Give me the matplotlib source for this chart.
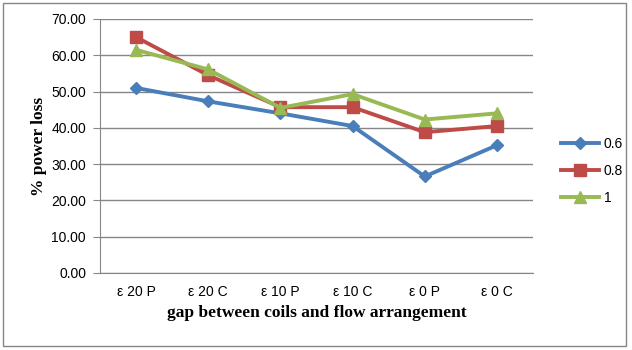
import matplotlib.pyplot as plt
from matplotlib.patches import Rectangle

# categories along the x axis
cats = ["ε 20 P", "ε 20 C", "ε 10 P", "ε 10 C", "ε 0 P", "ε 0 C"]

# % power loss for each series
s06 = [51.0, 47.3, 44.0, 40.5, 26.6, 35.2]
s08 = [65.0, 54.5, 45.7, 45.7, 38.8, 40.5]
s1 = [61.5, 56.1, 45.5, 49.3, 42.3, 44.0]

plt.rcParams["font.family"] = ["Liberation Sans", "DejaVu Sans"]

fig = plt.figure(figsize=(6.32, 3.5), dpi=100)
ax = fig.add_axes([100/632, 1-273/350, 433/632, 254/350])

x = range(len(cats))
ax.plot(x, s06, color="#4A7EBB", lw=2.8, marker="D", ms=6.5, label="0.6")
ax.plot(x, s08, color="#BE4B48", lw=2.8, marker="s", ms=8, label="0.8")
ax.plot(x, s1, color="#98B954", lw=2.8, marker="^", ms=8, label="1")

ax.set_xlim(-0.5, 5.5)
ax.set_ylim(0, 70)
ax.set_yticks(range(0, 71, 10))
ax.set_yticklabels(["%.2f" % v for v in range(0, 71, 10)])
ax.set_xticks(list(x))
ax.set_xticklabels(cats)
ax.grid(axis="y", color="#868686", lw=1)
ax.set_axisbelow(True)
for s in ["top", "right"]:
    ax.spines[s].set_visible(False)
ax.spines["left"].set_color("#868686")
ax.spines["bottom"].set_color("#868686")
ax.tick_params(axis="y", length=5, color="#868686", labelsize=10, pad=5)
ax.tick_params(axis="x", length=0, labelsize=10, pad=9)

ax.set_ylabel("% power loss", fontfamily="Liberation Serif", fontweight="bold", fontsize=12.5, labelpad=3)
ax.set_xlabel("gap between coils and flow arrangement", fontfamily="Liberation Serif",
              fontweight="bold", fontsize=12.5, labelpad=4)

fig.legend(loc="upper left", bbox_to_anchor=(548/632, 1-124/350), frameon=False,
           fontsize=10, handlelength=2.8, labelspacing=0.95, handletextpad=0.3)

fig.patches.append(Rectangle((3/632, 4/350), 623/632, 343/350, transform=fig.transFigure,
                             fill=False, edgecolor="#868686", lw=1))

fig.savefig("out.png", dpi=100)
